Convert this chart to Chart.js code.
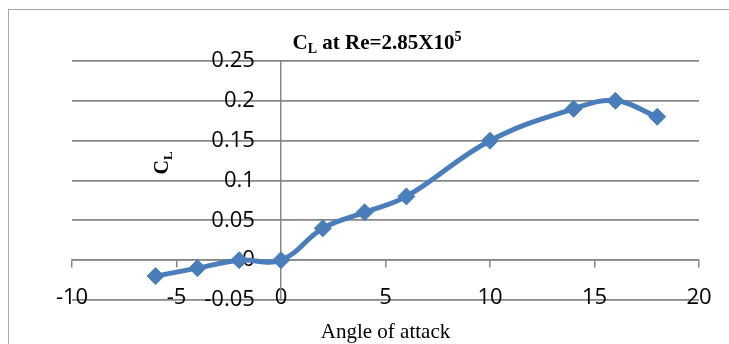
<!DOCTYPE html>
<html>
<head>
<meta charset="utf-8">
<script src="https://cdn.jsdelivr.net/npm/chart.js@4/dist/chart.umd.min.js"></script>
<style>
  body { margin: 0; background: #fff; }
  #wrap { width: 729px; height: 344px; }
</style>
</head>
<body>
<div id="wrap"><canvas id="clChart" width="729" height="344"></canvas></div>
<script>
// angle of attack (deg) and lift coefficient
const angles = [-6, -4, -2, 0, 2, 4, 6, 10, 14, 16, 18];
const clValues = [-0.02, -0.01, 0, 0, 0.04, 0.06, 0.08, 0.15, 0.19, 0.2, 0.18];
const xTicks = [-10, -5, 0, 5, 10, 15, 20];
const yTicks = [-0.05, 0, 0.05, 0.1, 0.15, 0.2, 0.25];
const yTickLabels = ['-0.05', '0', '0.05', '0.1', '0.15', '0.2', '0.25'];

const gridGrey = '#878787';
const lineBlue = '#4a7ebb';
const tickFont = { family: '"Open Sans", sans-serif', size: 22 };

// frame + titles with sub/superscripts (Chart.js titles can't do those)
const textPlugin = {
    id: 'textPlugin',
    beforeDraw(chart) {
        const ctx = chart.ctx;
        ctx.save();
        ctx.strokeStyle = '#a6a6a6';
        ctx.lineWidth = 1;
        ctx.strokeRect(8.5, 9.5, 740, 360);
        ctx.restore();
    },
    afterDraw(chart) {
        const ctx = chart.ctx;
        const area = chart.chartArea;
        ctx.save();
        ctx.fillStyle = '#000';
        ctx.textBaseline = 'alphabetic';

        // chart title
        const big = 'bold 21px "Liberation Serif", serif';
        const small = 'bold 14px "Liberation Serif", serif';
        const parts = [
            { t: 'C', f: big, dy: 0 },
            { t: 'L', f: small, dy: 4 },
            { t: ' at Re=2.85X10', f: big, dy: 0 },
            { t: '5', f: small, dy: -8 }
        ];
        let total = 0;
        parts.forEach(p => { ctx.font = p.f; p.w = ctx.measureText(p.t).width; total += p.w; });
        let x = 377 - total / 2;
        const baseY = 49;
        parts.forEach(p => {
            ctx.font = p.f;
            ctx.textAlign = 'left';
            ctx.fillText(p.t, x, baseY + p.dy);
            x += p.w;
        });

        // y axis title, rotated
        ctx.save();
        ctx.translate(168, 163);
        ctx.rotate(-Math.PI / 2);
        const yParts = [
            { t: 'C', f: 'bold 20px "Liberation Serif", serif', dy: 0 },
            { t: 'L', f: 'bold 13px "Liberation Serif", serif', dy: 4 }
        ];
        let yw = 0;
        yParts.forEach(p => { ctx.font = p.f; p.w = ctx.measureText(p.t).width; yw += p.w; });
        let yx = -yw / 2;
        yParts.forEach(p => {
            ctx.font = p.f;
            ctx.fillText(p.t, yx, p.dy);
            yx += p.w;
        });
        ctx.restore();

        // x axis title
        ctx.font = '21px "Liberation Serif", serif';
        ctx.textAlign = 'center';
        ctx.fillText('Angle of attack', (area.left + area.right) / 2, 338);
        ctx.restore();
    }
};

const ctx = document.getElementById('clChart').getContext('2d');
const clChart = new Chart(ctx, {
    type: 'scatter',
    data: {
        datasets: [{
            label: 'CL',
            data: angles.map((a, i) => ({ x: a, y: clValues[i] })),
            showLine: true,
            borderColor: lineBlue,
            backgroundColor: lineBlue,
            borderWidth: 5,
            tension: 0.4,
            pointStyle: 'rectRot',
            pointRadius: 8.5,
            pointBorderWidth: 1,
            pointBackgroundColor: lineBlue,
            pointBorderColor: lineBlue,
            yAxisID: 'y'
        }]
    },
    options: {
        responsive: false,
        animation: false,
        layout: {
            padding: { left: 72, right: 30, top: 61, bottom: 44 }
        },
        plugins: {
            legend: { display: false },
            tooltip: { enabled: false }
        },
        scales: {
            x: {
                type: 'linear',
                position: { y: 0 },
                min: -10,
                max: 20,
                afterBuildTicks: scale => { scale.ticks = xTicks.map(v => ({ value: v })); },
                grid: {
                    drawOnChartArea: false,
                    drawTicks: true,
                    tickLength: 7,
                    color: gridGrey,
                    lineWidth: 1.5
                },
                border: { display: true, color: gridGrey, width: 1.5 },
                ticks: {
                    padding: 17,
                    maxRotation: 0,
                    color: '#000',
                    font: tickFont
                }
            },
            // value axis: gridlines and the vertical line through x = 0
            y: {
                type: 'linear',
                position: { x: 0 },
                min: -0.05,
                max: 0.25,
                afterBuildTicks: scale => { scale.ticks = yTicks.map(v => ({ value: v })); },
                grid: {
                    drawTicks: false,
                    color: gridGrey,
                    lineWidth: 1.8
                },
                border: { display: true, color: gridGrey, width: 1.5 },
                ticks: { display: false }
            },
            // same value axis, only its labels, set a little left of x = 0
            yLabels: {
                type: 'linear',
                axis: 'y',
                position: { x: -1.25 },
                min: -0.05,
                max: 0.25,
                afterBuildTicks: scale => { scale.ticks = yTicks.map(v => ({ value: v })); },
                grid: { display: false },
                border: { display: false },
                ticks: {
                    color: '#000',
                    font: tickFont,
                    callback: (v, i) => yTickLabels[i]
                }
            }
        }
    },
    plugins: [textPlugin]
});
</script>
</body>
</html>
